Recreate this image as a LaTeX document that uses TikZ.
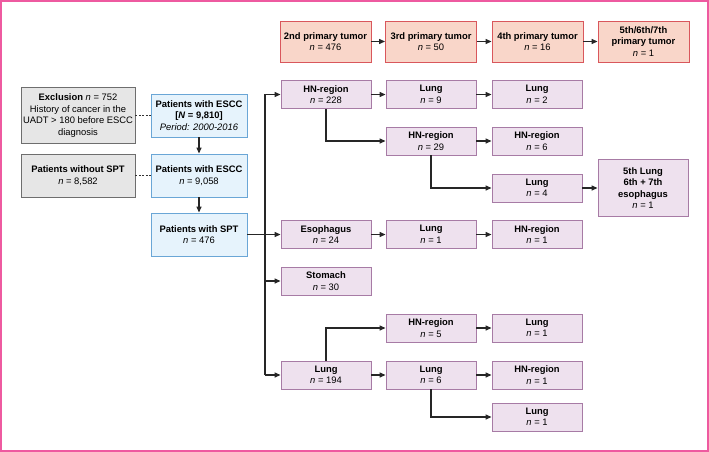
\documentclass[tikz,border=0pt]{standalone}
\usepackage{fontspec}
\setmainfont{Liberation Sans}
\usetikzlibrary{arrows.meta}
\definecolor{tumfill}{HTML}{F9D6C9}
\definecolor{tumdraw}{HTML}{D9575C}
\definecolor{escfill}{HTML}{E6F3FC}
\definecolor{escdraw}{HTML}{6AA6D6}
\definecolor{excfill}{HTML}{E6E6E6}
\definecolor{excdraw}{HTML}{6E6E6E}
\definecolor{sitefill}{HTML}{EEE1EE}
\definecolor{sitedraw}{HTML}{A77BA5}
\definecolor{framepink}{HTML}{EE5AA0}
\newcommand{\ncount}[1]{\textit{n} = #1}

\begin{document}
\begin{tikzpicture}[x=1pt,y=-1pt]
\tikzset{box/.style = {shape=rectangle,draw,line width=0.9pt,align=center,inner sep=1pt,
                       font=\fontsize{9.4}{11.5}\selectfont},
         tumor/.style = {box,fill=tumfill,draw=tumdraw,minimum width=91pt,minimum height=41pt},
         esccbox/.style = {box,fill=escfill,draw=escdraw,minimum width=96pt,minimum height=43pt},
         exclbox/.style = {box,fill=excfill,draw=excdraw,minimum width=114pt,minimum height=43pt},
         site/.style = {box,fill=sitefill,draw=sitedraw,minimum width=90pt,minimum height=28pt},
         link/.style = {line width=1.3pt,draw=black!85,-{Triangle[length=6pt,width=5pt]}},
         dashlink/.style = {line width=0.9pt,draw=black!80,dash pattern=on 2pt off 1.5pt}}
\useasboundingbox (0,0) rectangle (709,452);
\draw[framepink,line width=2pt] (1,1) rectangle (708,451);
% tumor order
\foreach \name/\x/\lab/\n in {t2/325.5/2nd primary tumor/476,t3/431/3rd primary tumor/50,
                              t4/537.5/4th primary tumor/16} {
    \node[tumor] (\name) at (\x,41.5) {\textbf{\lab}\\\ncount{\n}};
}
\node[tumor] (t5) at (643.5,41.5) {\textbf{5th/6th/7th}\\\textbf{primary tumor}\\\ncount{1}};
% patients
\node[esccbox] (b1) at (199,115.5) {\textbf{Patients with ESCC}\\\textbf{[\textit{N} = 9,810]}\\\textit{Period: 2000-2016}};
\node[esccbox] (b2) at (199,175.5) {\textbf{Patients with ESCC}\\\ncount{9,058}};
\node[esccbox] (b3) at (199,234.5) {\textbf{Patients with SPT}\\\ncount{476}};
\node[exclbox,minimum height=56pt] (g1) at (78,115.5) {\textbf{Exclusion} \ncount{752}\\History of cancer in the\\UADT > 180 before ESCC\\diagnosis};
\node[exclbox] (g2) at (78,175.5) {\textbf{Patients without SPT}\\\ncount{8,582}};
% tumor sites
\foreach \name/\x/\y/\lab/\n in {hn1/326/94.5/HN-region/228,lu1/431/94.5/Lung/9,lu2/537/94.5/Lung/2,
                                 hn2/431/141/HN-region/29,hn3/537/141/HN-region/6,lu3/537/188/Lung/4,
                                 es1/326/234.5/Esophagus/24,lu4/431/234.5/Lung/1,hn4/537/234.5/HN-region/1,
                                 st1/326/281/Stomach/30,hn5/431/328/HN-region/5,lu5/537/328/Lung/1,
                                 lu6/326/375/Lung/194,lu7/431/375/Lung/6,hn6/537/375/HN-region/1,
                                 lu8/537/417/Lung/1} {
    \node[site] (\name) at (\x,\y) {\textbf{\lab}\\\ncount{\n}};
}
\node[site,minimum height=57pt] (fin) at (643,188) {\textbf{5th Lung}\\\textbf{6th + 7th}\\\textbf{esophagus}\\\ncount{1}};
% edges
\foreach \i/\j in {t2/t3,t3/t4,t4/t5,b1/b2,b2/b3,b3/es1,hn1/lu1,lu1/lu2,hn2/hn3,lu3/fin,
                   es1/lu4,lu4/hn4,hn5/lu5,lu6/lu7,lu7/hn6} {
    \draw[link] (\i) -- (\j);
}
\foreach \i/\j in {hn1/hn2,hn2/lu3,lu7/lu8} {
    \draw[link] (\i.south) |- (\j.west);
}
\draw[link] (lu6.north) |- (hn5.west);
\draw[dashlink] (g1) -- (b1);
\draw[dashlink] (g2) -- (b2);
% branch line
\coordinate (bus) at (265,234.5);
\draw[link] (bus |- lu6) -- (bus |- hn1) -- (hn1);
\foreach \j in {st1,lu6} {
    \draw[link] (bus |- \j) -- (\j);
}
\end{tikzpicture}
\end{document}
